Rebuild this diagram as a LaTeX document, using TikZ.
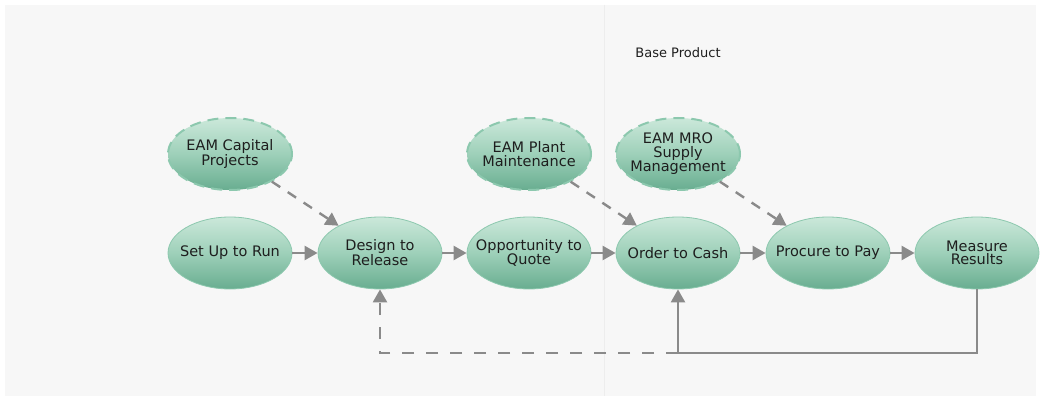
\documentclass[tikz,border=0pt]{standalone}
\usepackage{fontspec}
\setmainfont{DejaVu Sans}
\usetikzlibrary{shapes.geometric,arrows.meta}
\definecolor{bgc}{HTML}{F7F7F7}
\definecolor{topc}{HTML}{CBE8DA}
\definecolor{midc}{HTML}{9ED0B9}
\definecolor{botc}{HTML}{68AD90}
\definecolor{edgec}{HTML}{8CC8AE}
\definecolor{linec}{HTML}{8A8A8A}
\definecolor{txtc}{HTML}{1E1E1E}
\tikzset{
  proc/.style={ellipse, minimum width=124pt, minimum height=72pt, inner xsep=-14pt, inner ysep=-12pt,
    top color=topc, bottom color=botc, middle color=midc, draw=edgec, line width=0.8pt,
    align=center, text=txtc, font=\fontsize{14.5}{13.5}\selectfont},
  ext/.style={proc, draw=edgec, line width=2pt, dash pattern=on 11pt off 7pt},
  flow/.style={draw=linec, line width=2.4pt, -{Triangle[length=13pt,width=14pt]}},
  dflow/.style={flow, dash pattern=on 10pt off 9pt},
  fback/.style={draw=linec, line width=2.4pt},
}
\begin{document}
\begin{tikzpicture}[x=1pt,y=-1pt]
\useasboundingbox (0,0) rectangle (1041,401);
\fill[white] (0,0) rectangle (1041,401);
\fill[bgc] (5,5) rectangle (1036,396);
\draw[white!93!black, line width=0.6pt] (604,5) -- (604,396);
\node[font=\fontsize{13}{13}\selectfont, text=txtc] (bp) at (678,53) {Base Product};

\node[proc] (sur) at (230,253) {Set Up to Run};
\node[proc] (dtr) at (380,253) {Design to\\Release};
\node[proc] (otq) at (529,253) {Opportunity to\\Quote};
\node[proc] (otc) at (678,253) {Order to Cash};
\node[proc] (ptp) at (828,253) {Procure to Pay};
\node[proc] (mr) at (977,253) {Measure\\Results};

\node[ext] (cap) at (230,154) {EAM Capital\\Projects};
\node[ext] (pm) at (529,154) {EAM Plant\\Maintenance};
\node[ext] (mro) at (678,154) {EAM MRO\\Supply\\Management};

\draw[flow] (sur) -- (dtr);
\draw[flow] (dtr) -- (otq);
\draw[flow] (otq) -- (otc);
\draw[flow] (otc) -- (ptp);
\draw[flow] (ptp) -- (mr);

\draw[dflow] (cap) -- (dtr);
\draw[dflow] (pm) -- (otc);
\draw[dflow] (mro) -- (ptp);

\coordinate (fb) at (678,353);
\draw[fback] (mr.south) |- (fb);
\draw[flow] (fb) -- (otc.south);
\draw[dflow, dash pattern=on 12pt off 12pt] (fb) -| (dtr.south);
\end{tikzpicture}
\end{document}
